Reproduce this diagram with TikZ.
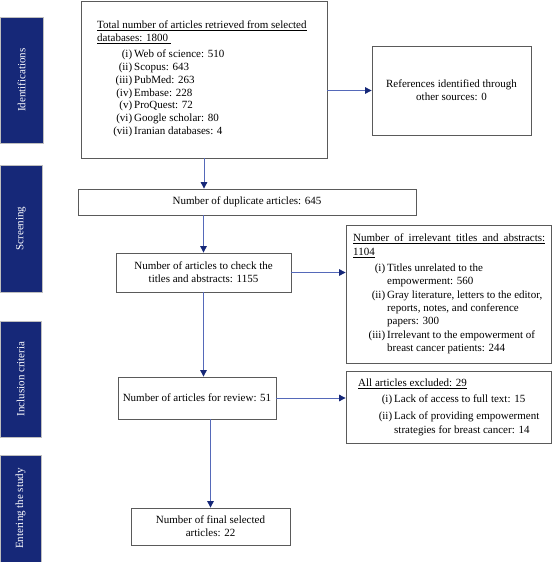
\documentclass[tikz,border=0pt]{standalone}
\usepackage{fontspec}
\setmainfont{Liberation Serif}
\usetikzlibrary{arrows.meta}
\definecolor{navy}{RGB}{22,40,120}
\definecolor{linkblue}{RGB}{85,105,185}
\definecolor{boxgray}{RGB}{90,90,90}
\newcommand\itemlab[1]{\llap{#1\hspace{2pt}}}
\begin{document}
\begin{tikzpicture}[x=1pt,y=-1pt, font=\fontsize{11}{13}\selectfont,
  box/.style={draw=boxgray, line width=0.8pt, inner sep=0pt, align=center},
  bar/.style={fill=navy, draw=gray!50, line width=0.4pt, text=white, rotate=90, inner sep=0pt},
  link/.style={draw=linkblue, line width=0.9pt, -{Triangle[length=6.5pt,width=6.5pt,color=navy]}},
  txt/.style={inner sep=0pt, anchor=base west, align=left}]
\useasboundingbox (0,0) rectangle (552,562);
% side bars
\node[bar, minimum width=126pt, minimum height=43pt] (barid) at (21.5,80) {Identifications};
\node[bar, minimum width=127pt, minimum height=42pt] (barscr) at (21,228.5) {Screening};
\node[bar, minimum width=116pt, minimum height=41pt] (barinc) at (20.5,379) {Inclusion criteria};
\node[bar, minimum width=107pt, minimum height=41pt] (barent) at (20.5,508.5) {Entering the study};
% boxes
\node[box, minimum width=246pt, minimum height=157pt] (total) at (204,79.5) {};
\node[txt] (totalhead) at (97,28.5) {\begin{tabular}[t]{@{}l@{}}\underline{Total number of articles retrieved from selected}\\ \underline{databases: 1800~}\end{tabular}};
\node[txt] (totallist) at (134,57.5) {\fontsize{11}{12.85}\selectfont\begin{tabular}[t]{@{}l@{}}
\itemlab{(i)}Web of science: 510\\
\itemlab{(ii)}Scopus: 643\\
\itemlab{(iii)}PubMed: 263\\
\itemlab{(iv)}Embase: 228\\
\itemlab{(v)}ProQuest: 72\\
\itemlab{(vi)}Google scholar: 80\\
\itemlab{(vii)}Iranian databases: 4
\end{tabular}};
\node[box, minimum width=159pt, minimum height=89pt] (refs) at (451.5,90.5) {References identified through\\other sources: 0};
\node[box, minimum width=338pt, minimum height=26pt] (dup) at (247,202) {Number of duplicate articles: 645};
\node[box, minimum width=175pt, minimum height=39pt] (check) at (203.5,272.5) {Number of articles to check the\\titles and abstracts: 1155};
\node[box, minimum width=205pt, minimum height=138pt] (irrel) at (448.5,294) {};
\node[txt] (irrhead) at (353,241.5) {\fontsize{11}{14}\selectfont\begin{tabular}[t]{@{}l@{}}\underline{\makebox[192pt][s]{Number of irrelevant titles and abstracts:}}\\ \underline{1104}\end{tabular}};
\node[txt] (irrlist) at (387,271.5) {\fontsize{11}{13.33}\selectfont\begin{tabular}[t]{@{}l@{}}
\itemlab{(i)}Titles unrelated to the\\
empowerment: 560\\
\itemlab{(ii)}Gray literature, letters to the editor,\\
reports, notes, and conference\\
papers: 300\\
\itemlab{(iii)}Irrelevant to the empowerment of\\
breast cancer patients: 244
\end{tabular}};
\node[box, minimum width=158pt, minimum height=42pt] (review) at (197,398) {Number of articles for review: 51};
\node[box, minimum width=205pt, minimum height=72pt] (excl) at (448.5,407) {};
\node[txt] (exclhead) at (358,386.5) {\underline{All articles excluded: 29}};
\node[txt] (excllist) at (394,402.5) {\fontsize{11}{14}\selectfont\begin{tabular}[t]{@{}l@{}}
\itemlab{(i)}Lack of access to full text: 15\\[3pt]
\itemlab{(ii)}Lack of providing empowerment\\
strategies for breast cancer: 14
\end{tabular}};
\node[box, minimum width=159pt, minimum height=37pt] (final) at (210.5,526.5) {Number of final selected\\articles: 22};
% connectors
\draw[link] (total.south) -- (total.south |- dup.north);
\draw[link] (total.east |- refs.west) -- (refs.west);
\draw[link] (check.north |- dup.south) -- (check.north);
\draw[link] (check.east) -- (check.east -| irrel.west);
\draw[link] (check.south) -- (check.south |- review.north);
\draw[link] (review.east) -- (review.east -| excl.west);
\draw[link] (final.north |- review.south) -- (final.north);
\end{tikzpicture}
\end{document}
